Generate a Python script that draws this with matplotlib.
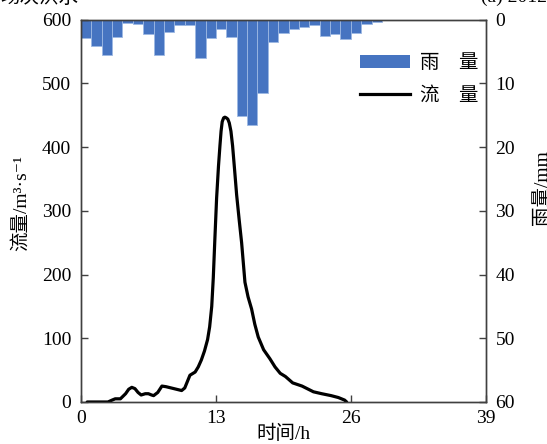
import matplotlib
matplotlib.use("Agg")
import matplotlib.pyplot as plt
from matplotlib.patches import Patch
from matplotlib.lines import Line2D

plt.rcParams['font.family'] = ['Liberation Serif', 'Noto Sans CJK SC', 'DejaVu Sans']

# Rainfall per hour (mm), bars start at hour 0
rain_hours = list(range(29))
rain_mm = [2.8, 4.1, 5.6, 2.7, 0.5, 0.7, 2.2, 5.5, 2.0, 0.9, 0.9, 6.0, 2.8, 1.5,
           2.7, 15.1, 16.5, 11.5, 3.5, 2.1, 1.5, 1.2, 0.9, 2.5, 2.3, 3.0, 2.1, 0.7, 0.3]

# Discharge hydrograph
flow_h = [0.6, 2.6, 3.0, 3.3, 3.8, 4.3, 4.6, 4.9, 5.2, 5.5, 5.8, 6.2, 6.5, 6.8, 7.0,
          7.4, 7.8, 8.2, 8.7, 9.2, 9.7, 10.0, 10.2, 10.5, 10.8, 11.0, 11.3, 11.6,
          11.9, 12.2, 12.4, 12.6, 12.75, 12.9, 13.07, 13.25, 13.39, 13.5, 13.61,
          13.75, 13.87, 14.0, 14.15, 14.29, 14.45, 14.61, 14.8, 15.0, 15.25, 15.48,
          15.8, 16.1, 16.44, 16.75, 17.08, 17.6, 18.2, 18.7, 19.2, 19.7, 20.4,
          21.3, 22.4, 23.2, 24.1, 24.8, 25.4, 25.6]
flow_q = [0, 0, 3, 5, 5, 13, 20, 23, 21, 15, 11, 13, 13, 11, 10,
          15, 25, 24, 22, 20, 18, 22, 30, 42, 45, 47, 55, 66,
          80, 98, 118, 150, 195, 255, 320, 370, 402, 425, 440,
          446, 447, 446, 444, 438, 425, 402, 365, 325, 285, 250,
          188, 165, 146, 122, 102, 82, 68, 55, 45, 40, 30,
          25, 16, 13, 10, 7, 3, 0]

x_ticks = [0, 13, 26, 39]
q_ticks = [0, 100, 200, 300, 400, 500, 600]
r_ticks = [0, 10, 20, 30, 40, 50, 60]

fig = plt.figure(figsize=(5.47, 4.44), dpi=100)
ax = fig.add_axes([0.148, 0.0946, 0.740, 0.861])
ax2 = ax.twinx()

spine_c = '#404040'
fs = 14

ax2.bar([h + 0.5 for h in rain_hours], rain_mm, width=1.0, color='#4674C1',
        edgecolor='#9db8e3', linewidth=0.6)
ax2.set_ylim(60, 0)
ax2.set_yticks(r_ticks)

ax.plot(flow_h, flow_q, color='black', linewidth=2.3, solid_joinstyle='round',
        solid_capstyle='round')
ax.set_xlim(0, 39)
ax.set_ylim(0, 600)
ax.set_xticks(x_ticks)
ax.set_yticks(q_ticks)

ax.set_zorder(ax2.get_zorder() + 1)
ax.patch.set_visible(False)

for a in (ax, ax2):
    for s in a.spines.values():
        s.set_color(spine_c)
        s.set_linewidth(1.0)

ax.tick_params(axis='both', direction='in', length=5, width=1, color=spine_c,
               labelsize=fs, pad=7)
ax.tick_params(axis='x', pad=6)
ax2.tick_params(axis='y', direction='in', length=5, width=1, color=spine_c,
                labelsize=fs, pad=7)

ax.set_xlabel('时间/h', fontsize=fs, labelpad=-2)
ax.set_ylabel('流量/m³·s⁻¹', fontsize=fs)
ax.yaxis.set_label_coords(-0.125, 0.52)
ax2.set_ylabel('雨量/mm', fontsize=fs, rotation=90)
ax2.yaxis.set_label_coords(1.118, 0.56)

handles = [Patch(facecolor='#4674C1', edgecolor='none'),
           Line2D([0], [0], color='black', linewidth=2.3)]
leg = ax.legend(handles, ['雨　量', '流　量'], loc='upper right',
                bbox_to_anchor=(1.025, 0.955), frameon=False, fontsize=fs,
                handlelength=2.6, handleheight=0.65, handletextpad=0.5,
                labelspacing=0.75)

fig.text(0.0, 1.005, '场次洪水', fontsize=fs, ha='left', va='center')
fig.text(1.0, 1.005, '(a) 2012', fontsize=fs, ha='right', va='center')

fig.savefig('out.png', dpi=100)
